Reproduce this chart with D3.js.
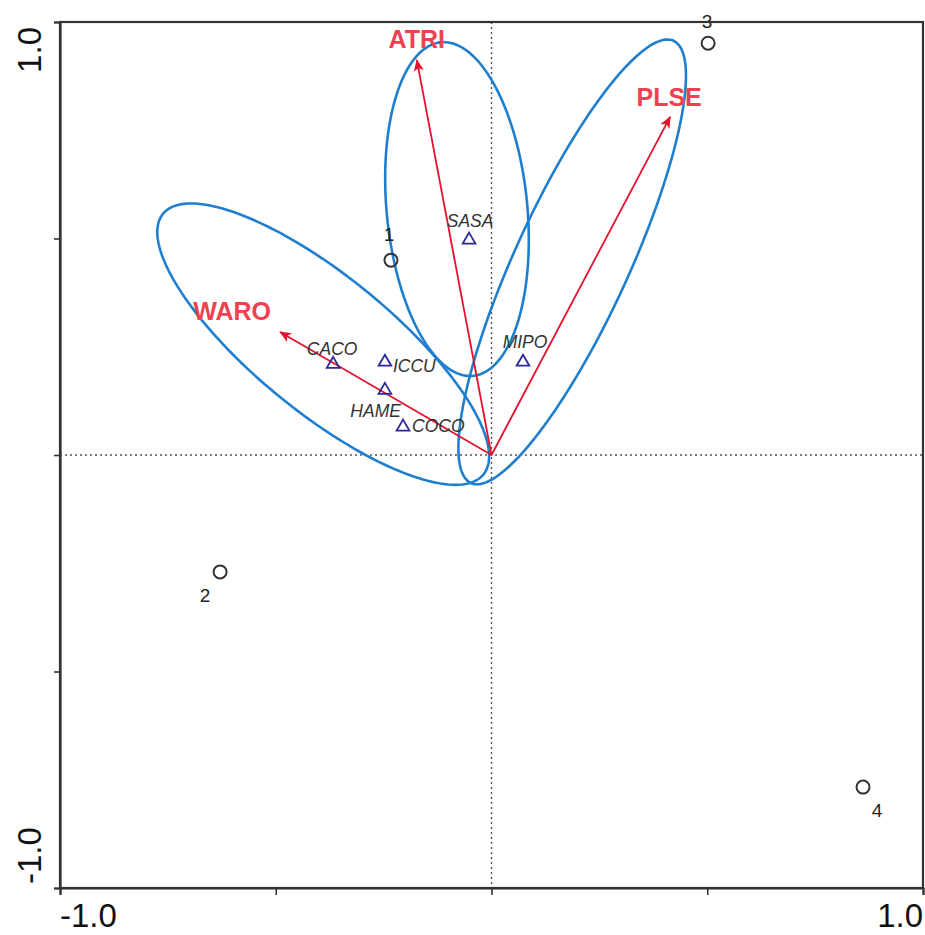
<!DOCTYPE html>
<html>
<head>
<meta charset="utf-8">
<script src="https://cdn.jsdelivr.net/npm/d3@7"></script>
<style>
  html, body { margin: 0; padding: 0; background: #fff; }
  svg { display: block; }
</style>
</head>
<body>
<svg id="chart" width="925" height="935"></svg>
<script>
// ---------- data ----------
const siteNames = ["1", "2", "3", "4"];
const siteX = [-0.233, -0.629, 0.502, 0.861];
const siteY = [0.450, -0.270, 0.951, -0.767];

const speciesNames = ["SASA", "MIPO", "CACO", "ICCU", "HAME", "COCO"];
const speciesX = [-0.052, 0.073, -0.367, -0.247, -0.247, -0.205];
const speciesY = [0.499, 0.217, 0.212, 0.217, 0.152, 0.067];

const envNames = ["ATRI", "PLSE", "WARO"];
const envX = [-0.173, 0.414, -0.490];
const envY = [0.912, 0.781, 0.284];

// ellipses: centre, semi-axes, rotation (degrees) in data units
const ellipseCX = [-0.390, -0.080, 0.187];
const ellipseCY = [0.256, 0.568, 0.446];
const ellipseA = [0.478, 0.387, 0.562];
const ellipseB = [0.158, 0.163, 0.132];
const ellipseAngle = [-39, 95.5, 65.3];

const xTicks = [-1, -0.5, 0, 0.5, 1];
const yTicks = [-1, -0.5, 0, 0.5, 1];
const xTickLabels = ["-1.0", "", "", "", "1.0"];
const yTickLabels = ["-1.0", "", "", "", "1.0"];

// ---------- layout ----------
const svg = d3.select("#chart");
const x = d3.scaleLinear().domain([-1, 1]).range([60, 923]);
const y = d3.scaleLinear().domain([-1, 1]).range([888, 22]);
const font = "Arial, 'Liberation Sans', Helvetica, sans-serif";

// centre dotted lines
svg.append("line").attr("x1", x(0)).attr("x2", x(0)).attr("y1", y(1)).attr("y2", y(-1))
  .attr("stroke", "#555").attr("stroke-width", 1.4).attr("stroke-dasharray", "2,3");
svg.append("line").attr("x1", x(-1)).attr("x2", x(1)).attr("y1", y(0)).attr("y2", y(0))
  .attr("stroke", "#555").attr("stroke-width", 1.4).attr("stroke-dasharray", "2,3");

// ellipses
const ellipses = ellipseCX.map((cx, i) => ({cx, cy: ellipseCY[i], a: ellipseA[i], b: ellipseB[i], ang: ellipseAngle[i]}));
const line = d3.line().x(d => x(d[0])).y(d => y(d[1])).curve(d3.curveLinearClosed);
ellipses.forEach(e => {
  const th = e.ang * Math.PI / 180;
  const pts = d3.range(0, 360, 2).map(t => {
    const r = t * Math.PI / 180;
    return [e.cx + e.a * Math.cos(r) * Math.cos(th) - e.b * Math.sin(r) * Math.sin(th),
            e.cy + e.a * Math.cos(r) * Math.sin(th) + e.b * Math.sin(r) * Math.cos(th)];
  });
  svg.append("path").attr("d", line(pts)).attr("fill", "none")
    .attr("stroke", "#1f7fce").attr("stroke-width", 2.6);
});

// arrow marker
svg.append("defs").append("marker")
  .attr("id", "arrow").attr("viewBox", "0 0 12 10").attr("refX", 11).attr("refY", 5)
  .attr("markerWidth", 12).attr("markerHeight", 10).attr("markerUnits", "userSpaceOnUse")
  .attr("orient", "auto")
  .append("path").attr("d", "M0,0 L12,5 L0,10 L3,5 Z").attr("fill", "#e5122e");

const env = envNames.map((n, i) => ({n, x: envX[i], y: envY[i]}));
svg.selectAll(".env").data(env).enter().append("line")
  .attr("x1", x(0)).attr("y1", y(0))
  .attr("x2", d => x(d.x)).attr("y2", d => y(d.y))
  .attr("stroke", "#e5122e").attr("stroke-width", 1.8)
  .attr("marker-end", "url(#arrow)");

const envLabelOffset = {ATRI: [0, -12], PLSE: [-1, -11], WARO: [-48, -12]};
svg.selectAll(".envlab").data(env).enter().append("text")
  .attr("x", d => x(d.x) + envLabelOffset[d.n][0])
  .attr("y", d => y(d.y) + envLabelOffset[d.n][1])
  .attr("text-anchor", "middle")
  .attr("font-family", font).attr("font-weight", "bold").attr("font-size", 25)
  .attr("fill", "#ef4150").text(d => d.n);

// species triangles
const sp = speciesNames.map((n, i) => ({n, x: speciesX[i], y: speciesY[i]}));
const tri = d3.symbol().type(d3.symbolTriangle).size(70);
svg.selectAll(".sp").data(sp).enter().append("path")
  .attr("d", tri).attr("transform", d => `translate(${x(d.x)},${y(d.y) + 1})`)
  .attr("fill", "none").attr("stroke", "#2a2a9c").attr("stroke-width", 1.8);

const spLabelPos = {
  SASA: [1, -12, "middle"], MIPO: [2, -13, "middle"], CACO: [-1, -8, "middle"],
  ICCU: [8, 11, "start"], HAME: [16, 28, "end"], COCO: [9, 6, "start"]
};
svg.selectAll(".splab").data(sp).enter().append("text")
  .attr("x", d => x(d.x) + spLabelPos[d.n][0])
  .attr("y", d => y(d.y) + spLabelPos[d.n][1])
  .attr("text-anchor", d => spLabelPos[d.n][2])
  .attr("font-family", font).attr("font-style", "italic").attr("font-size", 17.5)
  .attr("fill", "#333").text(d => d.n);

// sites
const sites = siteNames.map((n, i) => ({n, x: siteX[i], y: siteY[i]}));
svg.selectAll(".site").data(sites).enter().append("circle")
  .attr("cx", d => x(d.x)).attr("cy", d => y(d.y)).attr("r", 6.5)
  .attr("fill", "none").attr("stroke", "#333").attr("stroke-width", 2);
const siteLabelPos = {"1": [-2, -19], "2": [-15, 30], "3": [-1, -15], "4": [14, 30]};
svg.selectAll(".sitelab").data(sites).enter().append("text")
  .attr("x", d => x(d.x) + siteLabelPos[d.n][0])
  .attr("y", d => y(d.y) + siteLabelPos[d.n][1])
  .attr("text-anchor", "middle")
  .attr("font-family", font).attr("font-size", 19)
  .attr("fill", "#222").text(d => d.n);

// frame
svg.append("rect").attr("x", x(-1)).attr("y", y(1)).attr("width", x(1) - x(-1)).attr("height", y(-1) - y(1))
  .attr("fill", "none").attr("stroke", "#333").attr("stroke-width", 2.2);

// axes ticks (outward)
const xAxis = d3.axisBottom(x).tickValues(xTicks).tickSize(7).tickFormat("");
const gx = svg.append("g").attr("transform", `translate(0,${y(-1)})`).call(xAxis);
const yAxis = d3.axisLeft(y).tickValues(yTicks).tickSize(6).tickFormat("");
const gy = svg.append("g").attr("transform", `translate(${x(-1)},0)`).call(yAxis);
[gx, gy].forEach(g => {
  g.select(".domain").attr("stroke", "#333").attr("stroke-width", 2.2);
  g.selectAll(".tick line").attr("stroke", "#333").attr("stroke-width", 1.6);
});

// tick labels (only ends)
xTicks.forEach((v, i) => {
  if (!xTickLabels[i]) return;
  svg.append("text").attr("x", x(v)).attr("y", 927)
    .attr("text-anchor", v < 0 ? "start" : "end")
    .attr("font-family", font).attr("font-size", 33).attr("fill", "#111")
    .text(xTickLabels[i]);
});
yTicks.forEach((v, i) => {
  if (!yTickLabels[i]) return;
  svg.append("text")
    .attr("transform", `translate(41,${y(v) + (v < 0 ? -4 : 5)}) rotate(-90)`)
    .attr("text-anchor", v < 0 ? "start" : "end")
    .attr("font-family", font).attr("font-size", 33).attr("fill", "#111")
    .text(yTickLabels[i]);
});
</script>
</body>
</html>
